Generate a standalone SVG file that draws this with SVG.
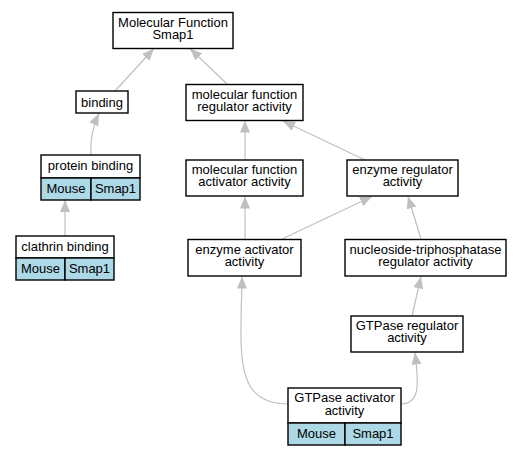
<svg xmlns="http://www.w3.org/2000/svg" width="521" height="456" viewBox="0 0 521 456">
<style>
.n{fill:#ffffff;stroke:#000000;stroke-width:1.4}
.c{fill:#add8e6;stroke:#000000;stroke-width:1.4}
.e{fill:none;stroke:#c0c0c0;stroke-width:1.2}
text{font-family:"Liberation Sans",Arial,Helvetica,sans-serif;font-size:13px;fill:#000;text-anchor:middle}
</style>
<defs>
<marker id="ah" markerUnits="userSpaceOnUse" markerWidth="13" markerHeight="11" refX="12" refY="5" orient="auto" viewBox="0 0 13 11">
<path d="M0,0 L12,5 L0,10 z" fill="#c0c0c0"/>
</marker>
</defs>
<rect width="521" height="456" fill="#ffffff"/>
<g id="connectors">
<path class="e" marker-end="url(#ah)" d="M115,91 L154,48.5"/>
<path class="e" marker-end="url(#ah)" d="M227,84 L190,48.5"/>
<path class="e" marker-end="url(#ah)" d="M91,155 C90,140 93,126 99,113.5"/>
<path class="e" marker-end="url(#ah)" d="M65,236 L65,200"/>
<path class="e" marker-end="url(#ah)" d="M245,160 L245,120.5"/>
<path class="e" marker-end="url(#ah)" d="M365,160 L283,121"/>
<path class="e" marker-end="url(#ah)" d="M245,239 L245,196.5"/>
<path class="e" marker-end="url(#ah)" d="M282,239 L372,196.5"/>
<path class="e" marker-end="url(#ah)" d="M421,239 L408,196.5"/>
<path class="e" marker-end="url(#ah)" d="M412,316 L421,276.5"/>
<path class="e" marker-end="url(#ah)" d="M288,404 C250,404 240,380 241,330 C241,305 242,290 242,276.5"/>
<path class="e" marker-end="url(#ah)" d="M401,404 C420,404 419,385 415,352.5"/>
</g>
<g id="mf">
<rect class="n" x="113" y="12.5" width="120" height="36"/>
<text x="173" y="27">Molecular Function</text>
<text x="173" y="39">Smap1</text>
</g>
<g id="binding">
<rect class="n" x="76" y="91" width="52" height="22"/>
<text x="102" y="107">binding</text>
</g>
<g id="protein_binding">
<rect class="n" x="41" y="155" width="99" height="23"/>
<rect class="c" x="41" y="178" width="50" height="22"/>
<rect class="c" x="91" y="178" width="49" height="22"/>
<text x="90.5" y="170">protein binding</text>
<text x="66" y="193">Mouse</text>
<text x="115.5" y="193">Smap1</text>
</g>
<g id="clathrin_binding">
<rect class="n" x="16" y="236" width="98" height="22"/>
<rect class="c" x="16" y="258" width="49" height="22"/>
<rect class="c" x="65" y="258" width="49" height="22"/>
<text x="65" y="251">clathrin binding</text>
<text x="40.5" y="273">Mouse</text>
<text x="89.5" y="273">Smap1</text>
</g>
<g id="mfra">
<rect class="n" x="186" y="84.5" width="117" height="36"/>
<text x="244.5" y="98.5">molecular function</text>
<text x="244.5" y="110.5">regulator activity</text>
</g>
<g id="mfaa">
<rect class="n" x="186" y="160" width="117" height="36"/>
<text x="244.5" y="174">molecular function</text>
<text x="244.5" y="186">activator activity</text>
</g>
<g id="era">
<rect class="n" x="347" y="160" width="111" height="36"/>
<text x="402.5" y="174">enzyme regulator</text>
<text x="402.5" y="186">activity</text>
</g>
<g id="eaa">
<rect class="n" x="188" y="239.5" width="113" height="36.5"/>
<text x="244.5" y="253.5">enzyme activator</text>
<text x="244.5" y="266">activity</text>
</g>
<g id="ntra">
<rect class="n" x="345" y="239.5" width="161" height="36.5"/>
<text x="425.5" y="253.5">nucleoside-triphosphatase</text>
<text x="425.5" y="266">regulator activity</text>
</g>
<g id="gtpreg">
<rect class="n" x="351" y="316" width="112" height="36"/>
<text x="407" y="330">GTPase regulator</text>
<text x="407" y="342">activity</text>
</g>
<g id="gtpact">
<rect class="n" x="288" y="388" width="113" height="35"/>
<rect class="c" x="288" y="423" width="57" height="22"/>
<rect class="c" x="345" y="423" width="56" height="22"/>
<text x="344.5" y="402">GTPase activator</text>
<text x="344.5" y="414.5">activity</text>
<text x="316.5" y="438">Mouse</text>
<text x="373" y="438">Smap1</text>
</g>
</svg>
